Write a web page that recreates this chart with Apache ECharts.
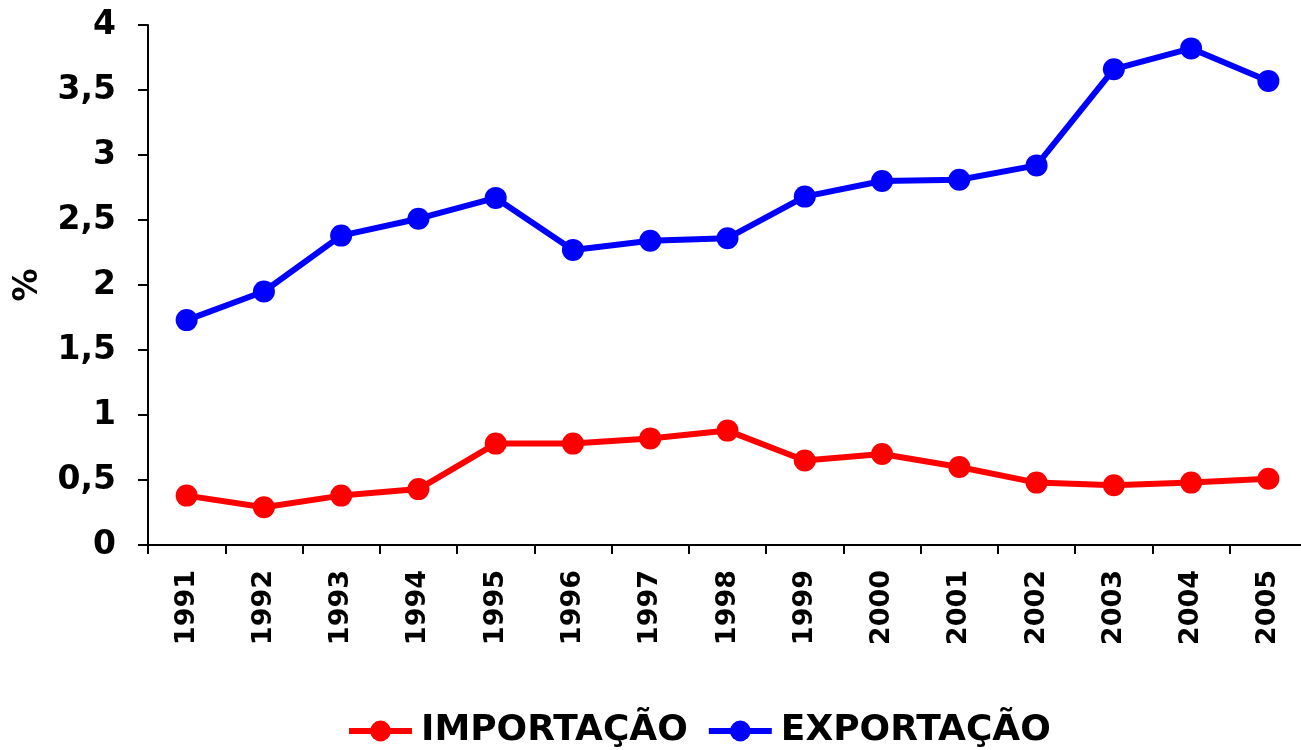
<!DOCTYPE html>
<html>
<head>
<meta charset="utf-8">
<script src="https://cdn.jsdelivr.net/npm/echarts@6/dist/echarts.min.js"></script>
<style>
  html, body { margin: 0; padding: 0; background: #fff; overflow: hidden; }
  #main { width: 1307px; height: 750px; }
</style>
</head>
<body>
<div id="main"></div>
<script>
var anos = ['1991', '1992', '1993', '1994', '1995', '1996', '1997', '1998', '1999', '2000', '2001', '2002', '2003', '2004', '2005'];
var importacao = [0.38, 0.29, 0.38, 0.43, 0.78, 0.78, 0.82, 0.88, 0.65, 0.70, 0.60, 0.48, 0.46, 0.48, 0.51];
var exportacao = [1.73, 1.95, 2.38, 2.51, 2.67, 2.27, 2.34, 2.36, 2.68, 2.80, 2.81, 2.92, 3.66, 3.82, 3.57];

var fonte = 'Verdana, "DejaVu Sans", sans-serif';
var chart = echarts.init(document.getElementById('main'));

var option = {
  backgroundColor: '#fff',
  animation: false,
  grid: { left: 148, right: 0, top: 25, bottom: 205, outerBoundsMode: 'none' },
  legend: {
    top: 708,
    left: 341,
    itemWidth: 63,
    itemHeight: 26,
    itemGap: 18,
    lineStyle: { width: 6 },
    textStyle: { fontFamily: fonte, fontWeight: 'bold', fontSize: 36, color: '#000', padding: [0, 0, 0, 4] },
    data: ['IMPORTAÇÃO', 'EXPORTAÇÃO']
  },
  xAxis: {
    type: 'category',
    data: anos,
    boundaryGap: true,
    axisLine: { lineStyle: { color: '#000', width: 2 } },
    axisTick: { show: true, length: 9, lineStyle: { color: '#000', width: 2 } },
    axisLabel: { rotate: 90, margin: 25, color: '#000', fontFamily: fonte, fontWeight: 'bold', fontSize: 27 }
  },
  yAxis: {
    type: 'value',
    min: 0,
    max: 4,
    interval: 0.5,
    name: '%',
    nameLocation: 'middle',
    nameGap: 103,
    nameRotate: 90,
    nameTextStyle: { color: '#000', fontFamily: fonte, fontWeight: 'bold', fontSize: 33 },
    splitLine: { show: false },
    axisLine: { show: true, lineStyle: { color: '#000', width: 2 } },
    axisTick: { show: true, length: 10, lineStyle: { color: '#000', width: 2 } },
    axisLabel: {
      margin: 32, color: '#000', fontFamily: fonte, fontWeight: 'bold', fontSize: 33,
      formatter: function (v) { return String(v).replace('.', ','); }
    }
  },
  series: [
    {
      name: 'IMPORTAÇÃO',
      type: 'line',
      data: importacao,
      color: '#ff0000',
      symbol: 'circle',
      symbolSize: 22,
      lineStyle: { width: 6, color: '#ff0000' },
      itemStyle: { color: '#ff0000' }
    },
    {
      name: 'EXPORTAÇÃO',
      type: 'line',
      data: exportacao,
      color: '#0000ff',
      symbol: 'circle',
      symbolSize: 22,
      lineStyle: { width: 6, color: '#0000ff' },
      itemStyle: { color: '#0000ff' }
    }
  ]
};
chart.setOption(option);
</script>
</body>
</html>
